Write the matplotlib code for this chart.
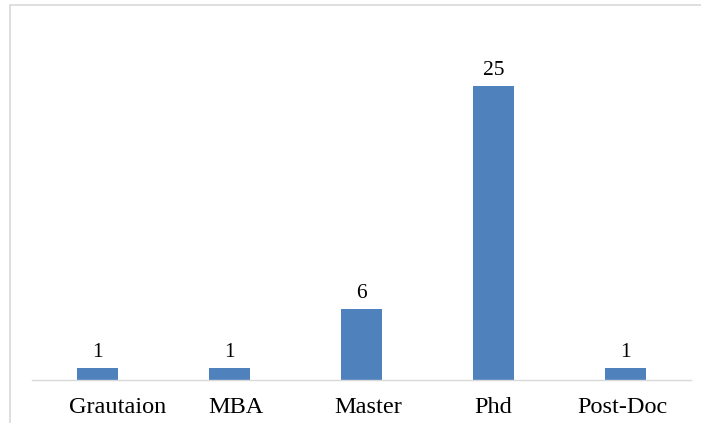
import matplotlib.pyplot as plt
from matplotlib.patches import Rectangle

# Data
categories = ['Grautaion', 'MBA', 'Master', 'Phd', 'Post-Doc']
counts = [1, 1, 6, 25, 1]

# the source labels don't sit exactly under the bars (pixels, + = right)
label_shift = [20, 6, 7, 0, -3]

plt.rcParams['font.family'] = ['Liberation Serif', 'DejaVu Serif']

fig = plt.figure(figsize=(7.01, 4.23), dpi=100)
W, H = 701, 423
ax = fig.add_axes([32 / W, 43 / H, 659 / W, 352.8 / H])

x = range(len(categories))
ax.bar(x, counts, width=0.31, color='#4F81BD', zorder=2)

# value labels above bars
for xi, v in zip(x, counts):
    ax.annotate(str(v), (xi, v), xytext=(0, 8), textcoords='offset points',
                ha='center', va='baseline', fontsize=15.5, color='black')

# category labels under the axis line
for xi, name, dx in zip(x, categories, label_shift):
    ax.annotate(name, (xi, 0), xycoords=('data', 'axes fraction'),
                xytext=(dx, -33), textcoords='offset pixels',
                ha='center', va='baseline', fontsize=17.5, color='black',
                annotation_clip=False)

ax.set_xlim(-0.5, 4.5)
ax.set_ylim(0, 30)
ax.set_xticks([])
ax.set_yticks([])
for s in ['top', 'right', 'left']:
    ax.spines[s].set_visible(False)
ax.spines['bottom'].set_color('#D9D9D9')
ax.spines['bottom'].set_linewidth(1.0)

# chart border (cropped at right and bottom)
fig.patches.append(Rectangle((10 / W, -0.05), 1.1, 1 - 5 / H + 0.05,
                             transform=fig.transFigure, fill=False,
                             edgecolor='#D9D9D9', linewidth=1.2))

fig.savefig('out.png', dpi=100)
